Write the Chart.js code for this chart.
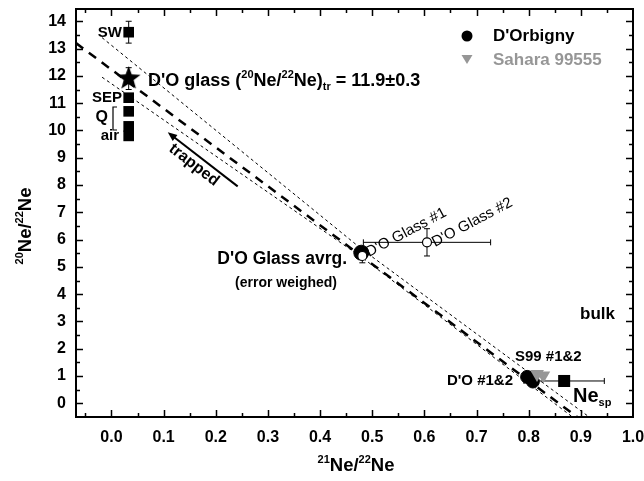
<!DOCTYPE html>
<html>
<head>
<meta charset="utf-8">
<script src="https://cdn.jsdelivr.net/npm/chart.js@4.4.0/dist/chart.umd.min.js"></script>
<style>html,body{margin:0;padding:0;background:#fff}</style>
</head>
<body>
<canvas id="neChart" width="644" height="481"></canvas>
<script>
const FONT = '"Liberation Sans", Arial, Helvetica, sans-serif';
const GREY = 'rgb(150,150,150)';

// axis ticks
const xTicks = [0.0, 0.1, 0.2, 0.3, 0.4, 0.5, 0.6, 0.7, 0.8, 0.9, 1.0];
const yTicks = [0, 1, 2, 3, 4, 5, 6, 7, 8, 9, 10, 11, 12, 13, 14];

// trapped components (SW, SEP, Q, Q/air, air)
const trapX = [0.033, 0.033, 0.033, 0.033, 0.033];
const trapY = [13.6, 11.2, 10.7, 10.15, 9.8];
const trapYErr = [0.4, 0, 0, 0, 0];

// D'O glass trapped value
const starX = [0.033];
const starY = [11.9];
const starYErr = [0.4];

// D'O glass points
const glassAvgX = [0.479];
const glassAvgY = [5.52];
const glassX = [0.481, 0.605];
const glassY = [5.4, 5.9];
const glassXErr = [0, 0.122];
const glassYErr = [0.25, 0.5];

// bulk samples
const dorbX = [0.797, 0.808];
const dorbY = [0.97, 0.8];
const s99X = [0.816, 0.828];
const s99Y = [1.08, 1.02];
const nespX = [0.868];
const nespY = [0.82];
const nespXErr = [0.077];

// mixing line and its envelope
const mixX = [-0.068, 0.893];
const mixY = [13.2, -0.5];
const upX = [-0.018, 0.48, 0.916];
const upY = [13.4, 5.65, -0.5];
const loX = [-0.018, 0.48, 0.884];
const loY = [11.95, 5.35, -0.5];

// "trapped" arrow
const arrowX = [0.242, 0.108];
const arrowY = [7.95, 9.93];

const pts = (xs, ys) => xs.map((x, i) => ({ x: x, y: ys[i] }));

function makeStar(R, r) {
    const c = document.createElement('canvas');
    const s = Math.ceil(R * 2 + 2);
    c.width = c.height = s;
    const g = c.getContext('2d');
    g.translate(s / 2, s / 2);
    g.beginPath();
    for (let i = 0; i < 10; i++) {
        const rad = i % 2 ? r : R;
        const a = -Math.PI / 2 + i * Math.PI / 5;
        g.lineTo(Math.cos(a) * rad, Math.sin(a) * rad);
    }
    g.closePath();
    g.fillStyle = '#000';
    g.fill();
    return c;
}

// draw text made of parts [text, size, dy]
function richText(ctx, parts, x, y, align, weight, color) {
    ctx.save();
    ctx.fillStyle = color || '#000';
    ctx.textBaseline = 'middle';
    ctx.textAlign = 'left';
    let w = 0;
    parts.forEach(p => { ctx.font = (weight || 'bold') + ' ' + p[1] + 'px ' + FONT; w += ctx.measureText(p[0]).width; });
    let cx = align === 'center' ? x - w / 2 : align === 'right' ? x - w : x;
    parts.forEach(p => {
        ctx.font = (weight || 'bold') + ' ' + p[1] + 'px ' + FONT;
        ctx.fillText(p[0], cx, y + (p[2] || 0));
        cx += ctx.measureText(p[0]).width;
    });
    ctx.restore();
}

const decor = {
    id: 'decor',
    beforeDatasetsDraw(chart) {
        const { ctx, scales: { x, y } } = chart;
        ctx.save();
        ctx.strokeStyle = '#000';
        ctx.lineWidth = 1;
        chart.data.datasets.forEach(ds => {
            if (!ds.errX && !ds.errY) return;
            ds.data.forEach((d, i) => {
                const px = x.getPixelForValue(d.x), py = y.getPixelForValue(d.y);
                const ex = ds.errX ? ds.errX[i] : 0, ey = ds.errY ? ds.errY[i] : 0;
                ctx.beginPath();
                if (ex) {
                    const a = x.getPixelForValue(d.x - ex), b = x.getPixelForValue(d.x + ex);
                    ctx.moveTo(a, py); ctx.lineTo(b, py);
                    ctx.moveTo(a, py - 3); ctx.lineTo(a, py + 3);
                    ctx.moveTo(b, py - 3); ctx.lineTo(b, py + 3);
                }
                if (ey) {
                    const a = y.getPixelForValue(d.y - ey), b = y.getPixelForValue(d.y + ey);
                    ctx.moveTo(px, a); ctx.lineTo(px, b);
                    ctx.moveTo(px - 3, a); ctx.lineTo(px + 3, a);
                    ctx.moveTo(px - 3, b); ctx.lineTo(px + 3, b);
                }
                ctx.stroke();
            });
        });
        ctx.restore();
    },
    afterDatasetsDraw(chart) {
        const { ctx, chartArea: ca, scales: { x, y } } = chart;
        ctx.save();
        // frame
        ctx.strokeStyle = '#000';
        ctx.lineWidth = 2;
        ctx.strokeRect(ca.left, ca.top, ca.right - ca.left, ca.bottom - ca.top);
        // inward ticks on all sides
        ctx.lineWidth = 1.5;
        ctx.beginPath();
        for (let v = -0.05; v < x.max + 1e-9; v += 0.05) {
            const major = Math.abs(v * 10 - Math.round(v * 10)) < 1e-6;
            const len = major ? 7 : 4;
            const px = Math.round(x.getPixelForValue(v)) + 0.5;
            if (px <= ca.left + 1 || px >= ca.right - 1) continue;
            ctx.moveTo(px, ca.bottom); ctx.lineTo(px, ca.bottom - len);
            ctx.moveTo(px, ca.top); ctx.lineTo(px, ca.top + len);
        }
        for (let v = 0; v < y.max; v += 0.5) {
            const major = Math.abs(v - Math.round(v)) < 1e-6;
            const len = major ? 7 : 4;
            const py = Math.round(y.getPixelForValue(v)) + 0.5;
            ctx.moveTo(ca.left, py); ctx.lineTo(ca.left + len, py);
            ctx.moveTo(ca.right, py); ctx.lineTo(ca.right - len, py);
        }
        ctx.stroke();

        // trapped arrow
        const ax0 = x.getPixelForValue(arrowX[0]), ay0 = y.getPixelForValue(arrowY[0]);
        const ax1 = x.getPixelForValue(arrowX[1]), ay1 = y.getPixelForValue(arrowY[1]);
        const ang = Math.atan2(ay1 - ay0, ax1 - ax0);
        ctx.lineWidth = 2;
        ctx.beginPath();
        ctx.moveTo(ax0, ay0);
        ctx.lineTo(ax1 - Math.cos(ang) * 6, ay1 - Math.sin(ang) * 6);
        ctx.stroke();
        ctx.beginPath();
        ctx.moveTo(ax1, ay1);
        ctx.lineTo(ax1 - Math.cos(ang - 0.4) * 10, ay1 - Math.sin(ang - 0.4) * 10);
        ctx.lineTo(ax1 - Math.cos(ang + 0.4) * 10, ay1 - Math.sin(ang + 0.4) * 10);
        ctx.closePath();
        ctx.fillStyle = '#000';
        ctx.fill();

        // "trapped" label along the arrow
        ctx.save();
        ctx.translate(194, 165);
        ctx.rotate(ang + Math.PI);
        ctx.font = 'bold 16px ' + FONT;
        ctx.textAlign = 'center';
        ctx.textBaseline = 'middle';
        ctx.fillText('trapped', 0, 0);
        ctx.restore();

        // rotated glass labels
        ctx.font = '15px ' + FONT;
        ctx.textAlign = 'left';
        ctx.textBaseline = 'alphabetic';
        [["D'O Glass #1", 369, 257], ["D'O Glass #2", 435, 247]].forEach(t => {
            ctx.save();
            ctx.translate(t[1], t[2]);
            ctx.rotate(-28 * Math.PI / 180);
            ctx.fillText(t[0], 0, 0);
            ctx.restore();
        });

        // labels
        richText(ctx, [['SW', 15]], 122, 33, 'right');
        richText(ctx, [['SEP', 15]], 122, 98, 'right');
        richText(ctx, [['Q', 16]], 108, 118, 'right');
        richText(ctx, [['air', 15]], 119, 136, 'right');
        ctx.lineWidth = 1.2;
        ctx.beginPath();
        ctx.moveTo(117, 107); ctx.lineTo(113, 107); ctx.lineTo(113, 130); ctx.lineTo(117, 130);
        ctx.stroke();
        richText(ctx, [["D'O glass (", 18], ['20', 11, -6], ['Ne/', 18], ['22', 11, -6], ['Ne)', 18], ['tr', 11, 6], [' = 11.9\u00b10.3', 18]], 148, 81, 'left');
        richText(ctx, [["D'O Glass avrg.", 17.5]], 347, 259, 'right');
        richText(ctx, [['(error weighed)', 14]], 337, 283, 'right');
        richText(ctx, [['bulk', 17]], 615, 314, 'right');
        richText(ctx, [['S99 #1&2', 15]], 515, 357, 'left');
        richText(ctx, [["D'O #1&2", 15]], 513, 381, 'right');
        richText(ctx, [['Ne', 20], ['sp', 11, 7]], 573, 396, 'left');

        // legend
        ctx.fillStyle = '#000';
        ctx.beginPath();
        ctx.arc(467, 36, 5.5, 0, Math.PI * 2);
        ctx.fill();
        ctx.fillStyle = GREY;
        ctx.beginPath();
        ctx.moveTo(461.5, 55); ctx.lineTo(472.5, 55); ctx.lineTo(467, 64);
        ctx.closePath();
        ctx.fill();
        richText(ctx, [["D'Orbigny", 17]], 493, 36, 'left');
        richText(ctx, [['Sahara 99555', 17]], 493, 60, 'left', 'bold', GREY);
        ctx.restore();
    },
    afterDraw(chart) {
        const { ctx } = chart;
        richText(ctx, [['21', 11, -6], ['Ne/', 18.5], ['22', 11, -6], ['Ne', 18.5]], 356, 466, 'center');
        ctx.save();
        ctx.translate(26, 226);
        ctx.rotate(-Math.PI / 2);
        richText(ctx, [['20', 11, -6], ['Ne/', 18.5], ['22', 11, -6], ['Ne', 18.5]], 0, 0, 'center');
        ctx.restore();
    }
};

const star = makeStar(12.5, 5.2);
const tickFont = { family: FONT, size: 16, weight: 'bold' };

new Chart(document.getElementById('neChart').getContext('2d'), {
    type: 'scatter',
    data: {
        datasets: [
            { label: 'star', data: pts(starX, starY), errY: starYErr, pointStyle: star },
            { label: "D'O Glass #1/#2", data: pts(glassX, glassY), errX: glassXErr, errY: glassYErr,
              pointStyle: 'circle', pointRadius: 4.5, backgroundColor: '#fff', borderColor: '#000', borderWidth: 1.2 },
            { label: "D'O Glass avrg.", data: pts(glassAvgX, glassAvgY),
              pointStyle: 'circle', pointRadius: 7.5, backgroundColor: '#000', borderColor: '#000' },
            { label: 'trapped comps', data: pts(trapX, trapY), errY: trapYErr,
              pointStyle: 'rect', pointRadius: 7.5, backgroundColor: '#000', borderColor: '#000', borderWidth: 0 },
            { label: 'Sahara 99555', data: pts(s99X, s99Y), pointStyle: 'triangle', rotation: 180,
              pointRadius: 8, backgroundColor: GREY, borderColor: GREY, borderWidth: 0 },
            { label: "D'Orbigny", data: pts(dorbX, dorbY), pointStyle: 'circle', pointRadius: 6.5,
              backgroundColor: '#000', borderColor: '#000' },
            { label: 'Ne sp', data: pts(nespX, nespY), errX: nespXErr,
              pointStyle: 'rect', pointRadius: 8.5, backgroundColor: '#000', borderColor: '#000', borderWidth: 0 },
            { label: 'mix', data: pts(mixX, mixY), showLine: true, pointRadius: 0,
              borderColor: '#000', borderWidth: 2.5, borderDash: [9, 7] },
            { label: 'upper', data: pts(upX, upY), showLine: true, pointRadius: 0,
              borderColor: '#000', borderWidth: 1, borderDash: [3, 3] },
            { label: 'lower', data: pts(loX, loY), showLine: true, pointRadius: 0,
              borderColor: '#000', borderWidth: 1, borderDash: [3, 3] }
        ]
    },
    options: {
        responsive: false,
        animation: false,
        layout: { padding: { top: 9, right: 11, left: 0, bottom: 0 } },
        plugins: { legend: { display: false }, tooltip: { enabled: false } },
        scales: {
            x: {
                type: 'linear', min: -0.068, max: 1.0,
                afterBuildTicks: s => { s.ticks = xTicks.map(v => ({ value: v })); },
                afterFit: s => { s.height = 64; s.paddingLeft = 0; s.paddingRight = 0; },
                grid: { display: false, drawTicks: false },
                border: { display: false },
                ticks: { font: tickFont, color: '#000', padding: 11, maxRotation: 0,
                         callback: v => v.toFixed(1) }
            },
            y: {
                type: 'linear', min: -0.5, max: 14.45,
                afterBuildTicks: s => { s.ticks = yTicks.map(v => ({ value: v })); },
                afterFit: s => { s.width = 76; s.paddingTop = 0; s.paddingBottom = 0; },
                grid: { display: false, drawTicks: false },
                border: { display: false },
                ticks: { font: tickFont, color: '#000', padding: 10, callback: v => v }
            }
        }
    },
    plugins: [decor]
});
</script>
</body>
</html>
